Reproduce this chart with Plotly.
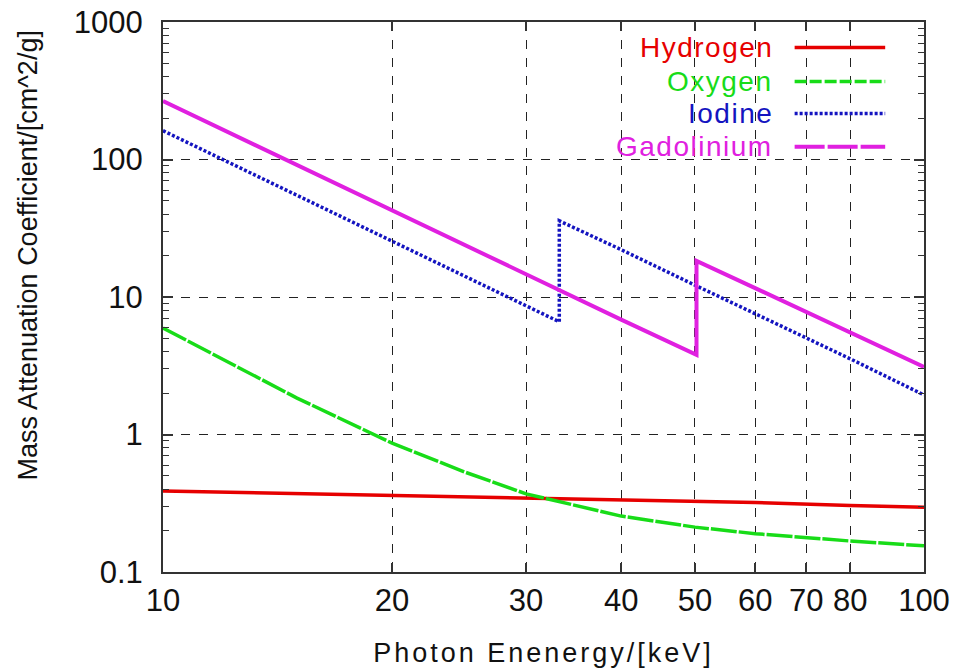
import plotly.graph_objects as go

# ---- data ----
h_energy = [10, 15, 20, 30, 40, 50, 60, 80, 100]
h_mu = [0.388, 0.372, 0.360, 0.348, 0.338, 0.329, 0.320, 0.305, 0.296]

o_energy = [10, 12, 15, 20, 25, 30, 40, 50, 60, 80, 100]
o_mu = [5.95, 3.50, 1.84, 0.865, 0.53, 0.37, 0.255, 0.212, 0.190, 0.168, 0.155]

i_energy = [10, 15, 20, 30, 33.17, 33.17, 40, 50, 60, 80, 100]
i_mu = [162, 55.0, 25.6, 8.6, 6.6, 35.8, 22.1, 12.2, 7.6, 3.55, 1.94]

gd_energy = [10, 15, 20, 30, 40, 50.24, 50.24, 60, 80, 100]
gd_mu = [266, 91, 42.7, 14.6, 6.85, 3.8, 18.3, 11.6, 5.5, 3.1]

series_names = ["Hydrogen", "Oxygen", "Iodine", "Gadolinium"]
series_colors = ["#e60000", "#18dc18", "#1414c0", "#e020e0"]
plot_dash = ["solid", "26px,2px", "3px,2px", "solid"]
legend_dash = ["solid", "12px,3px", "3px,2px", "30px,3px"]
series_width = [3.5, 3.5, 3.5, 4]

x_ticks = [10, 20, 30, 40, 50, 60, 70, 80, 100]
y_ticks = [0.1, 1, 10, 100, 1000]
y_tick_text = ["0.1", "1", "10", "100", "1000"]
y_minor = [m * 10.0 ** k for k in range(-1, 3) for m in range(2, 10)]

data_x = [h_energy, o_energy, i_energy, gd_energy]
data_y = [h_mu, o_mu, i_mu, gd_mu]

fig = go.Figure()
for name, xs, ys, c, d, w in zip(series_names, data_x, data_y, series_colors, plot_dash, series_width):
    fig.add_trace(go.Scatter(x=xs, y=ys, mode="lines", name=name,
                             line=dict(color=c, dash=d, width=w), showlegend=False))

FONT = "Liberation Sans, Arial, sans-serif"
axcol = "#333333"

fig.update_layout(
    width=953, height=671,
    margin=dict(l=163, r=29, t=22, b=99),
    paper_bgcolor="white", plot_bgcolor="white",
    font=dict(family=FONT, color="#111111"),
    showlegend=False,
)

fig.update_xaxes(
    type="log", range=[1, 2], automargin=False,
    tickvals=x_ticks, ticktext=[str(v) for v in x_ticks],
    tickfont=dict(size=31, family=FONT, color="#111"),
    ticks="inside", ticklen=9, tickwidth=1.5, tickcolor=axcol,
    showline=True, linecolor=axcol, linewidth=2, mirror="allticks",
    showgrid=True, gridcolor="#222", griddash="dash", gridwidth=1,
    title=dict(text='<span style="letter-spacing:3px">Photon Enenergy/[keV]</span>',
               font=dict(size=27, family=FONT, color="#111"), standoff=26),
)
fig.update_yaxes(
    type="log", range=[-1, 3], automargin=False,
    tickvals=y_ticks, ticktext=y_tick_text,
    tickfont=dict(size=31, family=FONT, color="#111"),
    ticks="inside", ticklen=10, tickwidth=1.5, tickcolor=axcol,
    minor=dict(tickvals=y_minor, ticks="inside", ticklen=6, tickwidth=1.2,
               tickcolor=axcol, showgrid=False),
    showline=True, linecolor=axcol, linewidth=2, mirror="allticks",
    showgrid=True, gridcolor="#222", griddash="dash", gridwidth=1,
    ticklabelstandoff=12,
)

# y-axis title (placed above centre, as in the reference)
fig.add_annotation(xref="paper", yref="paper", x=-0.177, y=0.576, xanchor="center", yanchor="middle",
                   text="Mass Attenuation Coefficient/[cm^2/g]", textangle=-90, showarrow=False,
                   font=dict(size=27, family=FONT, color="#111"))

# legend box (white, drawn above the grid, below the traces)
fig.add_shape(type="rect", xref="paper", yref="paper", x0=0.545, x1=0.997, y0=0.735, y1=0.997,
              fillcolor="white", line=dict(width=0), layer="between")

leg_y = [0.9536, 0.8917, 0.8335, 0.7734]
for name, c, d, w, yy in zip(series_names, series_colors, legend_dash, series_width, leg_y):
    fig.add_annotation(xref="paper", yref="paper", x=0.804, y=yy, xanchor="right", yanchor="middle",
                       text='<span style="letter-spacing:1.5px">' + name + '</span>', showarrow=False,
                       font=dict(size=28, family=FONT, color=c))
    fig.add_shape(type="line", xref="paper", yref="paper", x0=0.830, x1=0.949, y0=yy, y1=yy,
                  line=dict(color=c, dash=d, width=w))

fig.write_html("out.html")
